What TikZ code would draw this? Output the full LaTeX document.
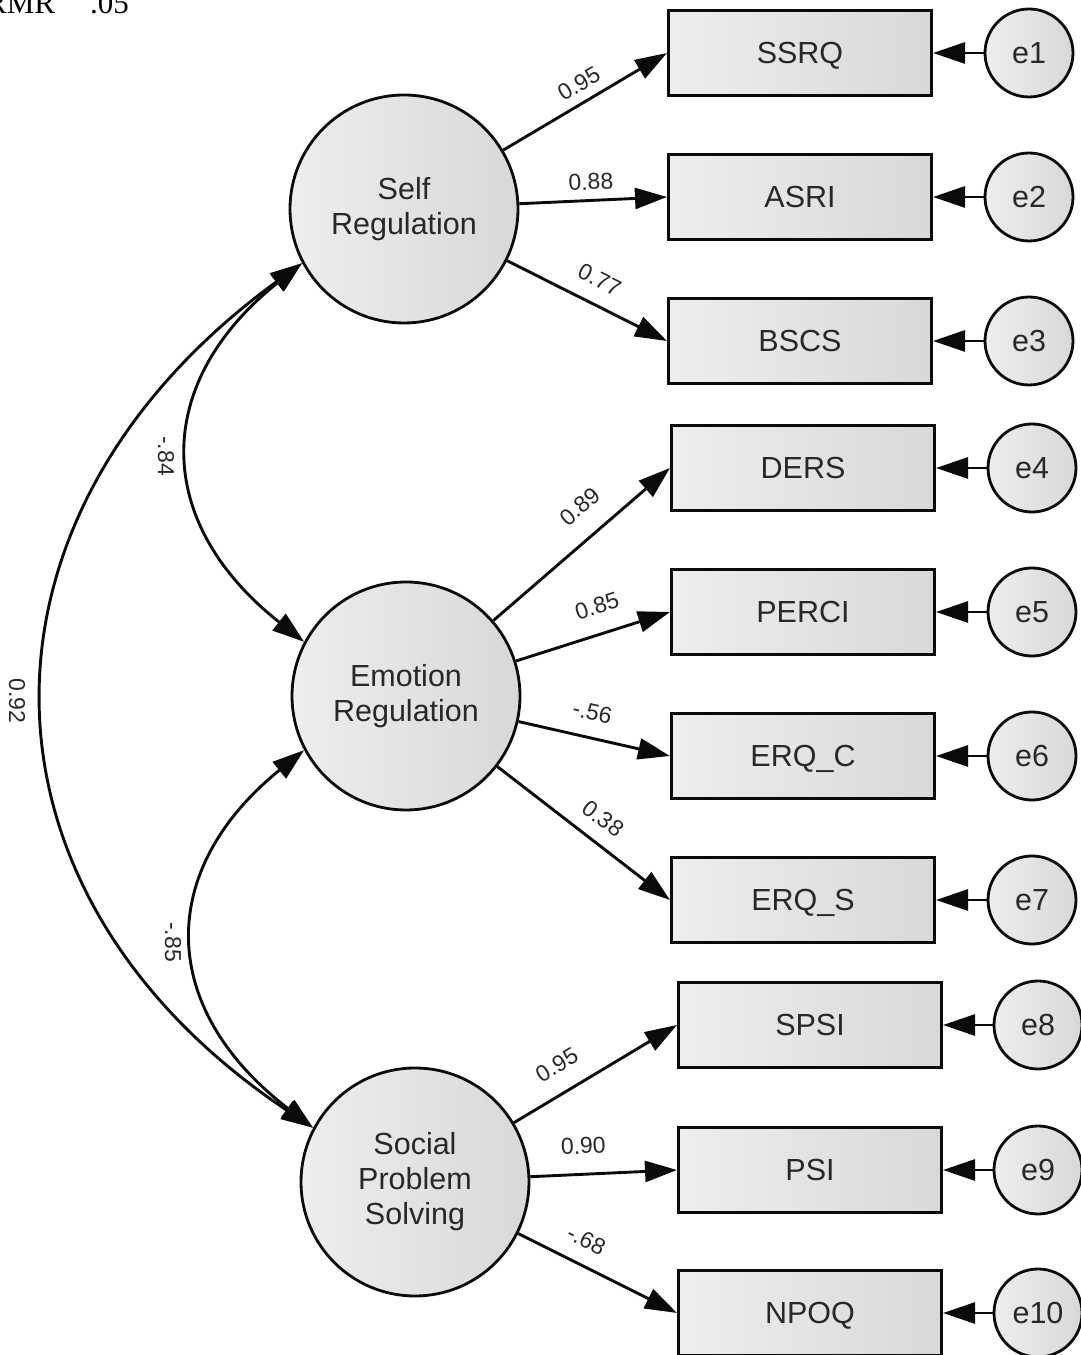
\documentclass[tikz,border=0pt]{standalone}
\usepackage{fontspec}
\setmainfont{Liberation Sans}
\newfontfamily\timesfont{Liberation Serif}
\usetikzlibrary{arrows.meta}

\definecolor{fillL}{RGB}{238,238,238}
\definecolor{fillR}{RGB}{216,216,216}
\definecolor{ink}{RGB}{40,40,40}
\definecolor{wire}{RGB}{10,10,10}

\begin{document}
\begin{tikzpicture}[x=1pt,y=1pt,
  tip/.tip={Triangle[length=32pt,width=21pt]},
  obs/.style={rectangle, draw=wire, line width=3pt, left color=fillL, right color=fillR,
    minimum width=263pt, minimum height=85pt, inner sep=0pt,
    text height=21.8pt, text depth=0pt,
    font=\fontsize{30.5}{36}\selectfont, text=ink},
  lat/.style={circle, draw=wire, line width=2.8pt, left color=fillL, right color=fillR,
    minimum size=228pt, inner sep=0pt, align=center,
    font=\fontsize{30.5}{35}\selectfont, text=ink},
  err/.style={circle, draw=wire, line width=2.8pt, left color=fillL, right color=fillR,
    minimum size=88pt, inner sep=0pt, text height=21.8pt, text depth=0pt,
    font=\fontsize{30.5}{36}\selectfont, text=ink},
  load/.style={-tip, line width=2.9pt, draw=wire},
  cov/.style={tip-tip, line width=2.9pt, draw=wire},
  lab/.style={font=\fontsize{23}{25}\selectfont, text=ink, sloped, above=8pt, inner sep=1pt},
  covlab/.style={font=\fontsize{23}{25}\selectfont, text=ink, rotate=-90, inner sep=1pt}
]
\useasboundingbox (0,0) rectangle (1080,1355);

% fit statistic, partly off the top edge
\node[anchor=base west, inner sep=0pt, font=\timesfont\fontsize{31}{33}\selectfont] (fit) at (-14,1341) {RMR\hspace{35pt}.05};

% latent factors
\node[lat] (SR)  at (404,1146) {Self\\Regulation};
\node[lat] (ER)  at (406,659)  {Emotion\\Regulation};
\node[lat] (SPS) at (415,173)  {Social\\Problem\\Solving};

% observed indicators
\node[obs] (SSRQ)  at (800,1302) {SSRQ};
\node[obs] (ASRI)  at (800,1158) {ASRI};
\node[obs] (BSCS)  at (800,1014) {BSCS};
\node[obs] (DERS)  at (803,887)  {DERS};
\node[obs] (PERCI) at (803,743)  {PERCI};
\node[obs] (ERQC)  at (803,599)  {ERQ\_C};
\node[obs] (ERQS)  at (803,455)  {ERQ\_S};
\node[obs] (SPSI)  at (810,330)  {SPSI};
\node[obs] (PSI)   at (810,185)  {PSI};
\node[obs] (NPOQ)  at (810,42)   {NPOQ};

% residuals
\node[err] (e1)  at (1029,1302) {e1};
\node[err] (e2)  at (1029,1158) {e2};
\node[err] (e3)  at (1029,1014) {e3};
\node[err] (e4)  at (1032,887)  {e4};
\node[err] (e5)  at (1032,743)  {e5};
\node[err] (e6)  at (1032,599)  {e6};
\node[err] (e7)  at (1032,455)  {e7};
\node[err] (e8)  at (1038,330)  {e8};
\node[err] (e9)  at (1038,185)  {e9};
\node[err] (e10) at (1038,42)   {e10};

% factor loadings
\draw[load] (SR) -- node[lab, pos=0.52] {0.95} (SSRQ.west);
\draw[load] (SR) -- node[lab, pos=0.49] {0.88} (ASRI.west);
\draw[load] (SR) -- node[lab, pos=0.51, above=6pt] {0.77} (BSCS.west);
\draw[load] (ER) -- node[lab, pos=0.60, above=11pt] {0.89} (DERS.west);
\draw[load] (ER) -- node[lab, pos=0.58, above=9pt] {0.85} (PERCI.west);
\draw[load] (ER) -- node[lab, pos=0.45, above=7pt] {-.56} (ERQC.west);
\draw[load] (ER) -- node[lab, pos=0.53, above=5pt] {0.38} (ERQS.west);
\draw[load] (SPS) -- node[lab, pos=0.35, above=9pt] {0.95} (SPSI.west);
\draw[load] (SPS) -- node[lab, pos=0.37, above=10pt] {0.90} (PSI.west);
\draw[load] (SPS) -- node[lab, pos=0.36, above=6pt] {-.68} (NPOQ.west);

% residual paths
\foreach \e/\v in {e1/SSRQ,e2/ASRI,e3/BSCS,e4/DERS,e5/PERCI,e6/ERQC,e7/ERQS,e8/SPSI,e9/PSI,e10/NPOQ}
  \draw[load] (\e) -- (\v.east);

% factor covariances
\draw[cov] (SR.208) .. controls +(-150,-120) and +(-152,120) .. (ER.152);
\draw[cov] (ER.208) .. controls +(-148,-120) and +(-156,120) .. (SPS.152);
\draw[cov] (SR.208) .. controls +(-344,-250) and +(-355,237) .. (SPS.152);
\node[covlab] (c1) at (166,899) {-.84};
\node[covlab] (c2) at (173,413) {-.85};
\node[covlab] (c3) at (17,654)  {0.92};
\end{tikzpicture}
\end{document}
